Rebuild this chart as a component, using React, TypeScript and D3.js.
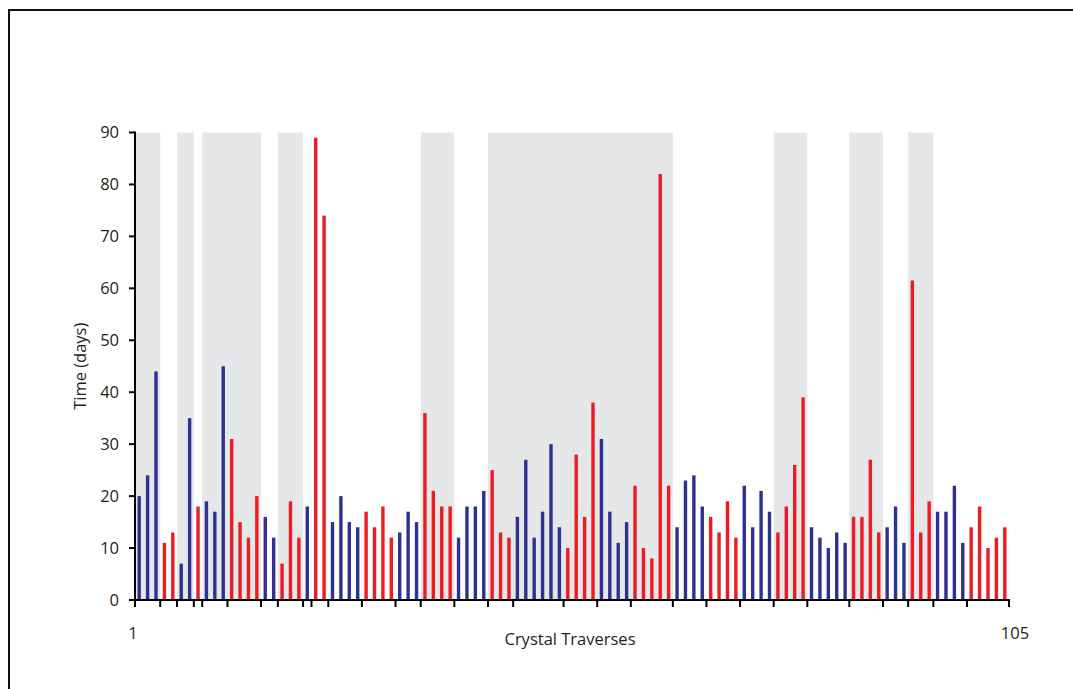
import React from "react";
import * as d3 from "d3";

// Time (days) for each crystal traverse, left to right
const values: number[] = [
  20, 24, 44, 11, 13, 7, 35, 18, 19, 17,
  45, 31, 15, 12, 20, 16, 12, 7, 19, 12,
  18, 89, 74, 15, 20, 15, 14, 17, 14, 18,
  12, 13, 17, 15, 36, 21, 18, 18, 12, 18,
  18, 21, 25, 13, 12, 16, 27, 12, 17, 30,
  14, 10, 28, 16, 38, 31, 17, 11, 15, 22,
  10, 8, 82, 22, 14, 23, 24, 18, 16, 13,
  19, 12, 22, 14, 21, 17, 13, 18, 26, 39,
  14, 12, 10, 13, 11, 16, 16, 27, 13, 14,
  18, 11, 61.5, 13, 19, 17, 17, 22, 11, 14,
  18, 10, 12, 14,
];

// Group of each traverse (B = blue, R = red), written as runs
const groupRuns: string[] = [
  "BBB", "RR", "BB", "R", "BBB", "RRRR", "BB", "RRR", "B", "RR",
  "BBBB", "RRRR", "BBB", "RRRR", "BBBB", "RRR", "BBBBBB", "RRRR", "BBBB", "RRRRR",
  "BBBB", "RRRR", "BBBB", "RRRR", "BBBBB", "RRRR", "BBB", "RRR", "BBBB", "RRRRR",
];
const groups: string[] = groupRuns.join("").split("");

// Shaded spans, as [start boundary, end boundary] in bar slots
const shadedSpans: [number, number][] = [
  [0, 3], [5, 7], [8, 15], [17, 20], [34, 38], [42, 64], [76, 80], [85, 89], [92, 95],
];

const yTicks: number[] = [0, 10, 20, 30, 40, 50, 60, 70, 80, 90];
const xEndLabels: string[] = ["1", "105"];

const BLUE = "#2e3192";
const RED = "#ed1c24";
const GRAY = "#e6e7e8";
const INK = "#231f20";
const FONT = "'Open Sans', 'Noto Sans', sans-serif";

export default function App() {
  const W = 1073;
  const H = 689;
  const x0 = 135;
  const x1 = 1009;
  const yBase = 600;
  const yTop = 132.5;

  const n = values.length;
  const xBand = d3
    .scaleBand<number>()
    .domain(d3.range(n))
    .range([x0, x1])
    .padding(0);
  const xSlot = d3.scaleLinear().domain([0, n]).range([x0, x1]);
  const y = d3.scaleLinear().domain([0, 90]).range([yBase, yTop]);

  // tick boundaries where group changes
  const xTickSlots: number[] = [0];
  for (let i = 1; i < n; i++) {
    if (groups[i] !== groups[i - 1]) xTickSlots.push(i);
  }
  xTickSlots.push(n);

  const bw = 3.4;

  return (
    <svg
      width={W}
      height={H}
      style={{ position: "absolute", left: 0, top: 0, background: "#fff" }}
    >
      <rect x={9} y={10} width={1200} height={800} fill="none" stroke="#111" strokeWidth={2} />

      {shadedSpans.map(([a, b], i) => (
        <rect
          key={"s" + i}
          x={xSlot(a)}
          y={y(90)}
          width={xSlot(b) - xSlot(a)}
          height={y(0) - y(90)}
          fill={GRAY}
        />
      ))}

      {values.map((v, i) => (
        <rect
          key={"b" + i}
          x={(xBand(i) as number) + xBand.bandwidth() / 2 - bw / 2}
          y={y(v)}
          width={bw}
          height={y(0) - y(v)}
          fill={groups[i] === "B" ? BLUE : RED}
        />
      ))}

      {/* y axis */}
      <line x1={x0} x2={x0} y1={y(90) - 1} y2={yBase + 1} stroke="#000" strokeWidth={2} />
      {yTicks.map((t) => (
        <g key={"yt" + t}>
          <line x1={x0 - 6} x2={x0} y1={y(t)} y2={y(t)} stroke="#000" strokeWidth={2} />
          <text
            x={x0 - 16}
            y={y(t)}
            dy="0.36em"
            textAnchor="end"
            fontFamily={FONT}
            fontSize={16.5}
            fill={INK}
          >
            {t}
          </text>
        </g>
      ))}
      <text
        transform={`translate(86,${(y(0) + y(90)) / 2}) rotate(-90)`}
        textAnchor="middle"
        fontFamily={FONT}
        fontSize={16.5}
        fill={INK}
      >
        Time (days)
      </text>

      {/* x axis */}
      <line x1={x0 - 1} x2={x1 + 1} y1={yBase} y2={yBase} stroke="#000" strokeWidth={2} />
      {xTickSlots.map((s) => (
        <line
          key={"xt" + s}
          x1={xSlot(s)}
          x2={xSlot(s)}
          y1={yBase}
          y2={yBase + 7}
          stroke="#000"
          strokeWidth={2}
        />
      ))}
      <text x={xSlot(0) - 2} y={639} textAnchor="middle" fontFamily={FONT} fontSize={16.5} fill={INK}>
        {xEndLabels[0]}
      </text>
      <text x={xSlot(n) + 6} y={639} textAnchor="middle" fontFamily={FONT} fontSize={16.5} fill={INK}>
        {xEndLabels[1]}
      </text>
      <text x={570} y={645} textAnchor="middle" fontFamily={FONT} fontSize={16.5} fill={INK}>
        Crystal Traverses
      </text>
    </svg>
  );
}
